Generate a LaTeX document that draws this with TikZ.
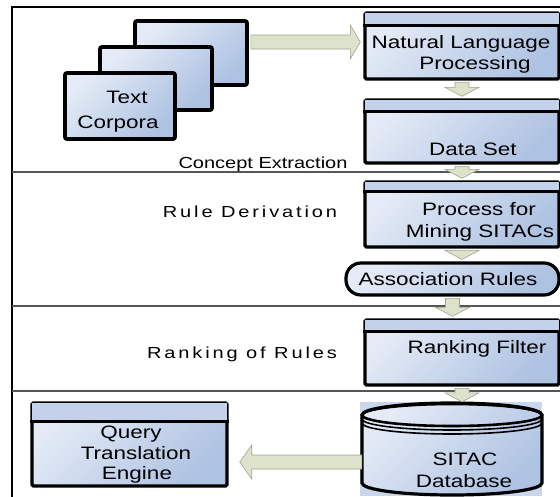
\documentclass[tikz,border=0pt]{standalone}
\usepackage{fontspec}
\setmainfont[FakeStretch=1.25]{Liberation Sans}
\newfontfamily\spacedfont[FakeStretch=1.25,LetterSpace=18]{Liberation Sans}
\usetikzlibrary{calc}
\definecolor{boxlight}{HTML}{E4EBF6}
\definecolor{boxdark}{HTML}{AEC2E2}
\definecolor{headfill}{HTML}{C3D2EA}
\definecolor{arrowfill}{HTML}{DDE3CA}
\definecolor{arrowdraw}{HTML}{9EA58E}
\definecolor{sepgray}{HTML}{555555}
\definecolor{dbbg}{HTML}{C9D7EC}
\tikzset{
  procbox/.style={draw=black, line width=3.4pt, rounded corners=1.5pt,
    top color=boxlight, bottom color=boxdark, shading angle=45,
    inner sep=0pt, minimum width=194pt},
  stackbox/.style={draw=black, line width=3.8pt, rounded corners=2pt,
    top color=boxlight, bottom color=boxdark, shading angle=45,
    inner sep=0pt, minimum width=112pt},
  assocbox/.style={draw=black, line width=3.2pt, rounded corners=15pt,
    top color=boxlight, bottom color=boxdark, shading angle=45,
    inner sep=0pt, minimum width=213pt, minimum height=32pt},
  fatarrow/.style={fill=arrowfill, draw=arrowdraw, line width=0.6pt, line join=miter},
  boxtext/.style={anchor=base, inner sep=0pt, font=\fontsize{18}{21}\selectfont},
  sidetext/.style={anchor=base, inner sep=0pt, font=\fontsize{16}{19}\selectfont},
  spacedtext/.style={anchor=base, inner sep=0pt, font=\spacedfont\fontsize{16}{19}\selectfont},
  frameline/.style={draw=black, line width=1.5pt},
  sepline/.style={draw=sepgray, line width=1.5pt},
}
\newcommand{\headband}[2]{%
  \fill[headfill] ($(#1.north west)+(1.7,1.7)$) rectangle ($(#1.north east)+(-1.7,#2)$);
  \draw[line width=3.2pt] ($(#1.north west)+(0,#2)$) -- ($(#1.north east)+(0,#2)$);}
\newcommand{\fatdown}[2]{%
  \path[fatarrow] let \p1=(#1.south), \p2=(#2.north) in
    (\x1-7pt,\y1-1.7pt) -- (\x1-7pt,\y2+11pt) -- (\x1-17pt,\y2+11pt) -- (\x1,\y2+2pt)
    -- (\x1+17pt,\y2+11pt) -- (\x1+7pt,\y2+11pt) -- (\x1+7pt,\y1-1.7pt) -- cycle;}
\begin{document}
\begin{tikzpicture}[x=1pt,y=-1pt]
\useasboundingbox (0,0) rectangle (560,496);
\clip (0,0) rectangle (560,496);
\fill[white] (0,0) rectangle (560,496);

% frame and separators
\draw[frameline] (12,497) -- (12,7) -- (561,7);
\draw[sepline] (12,172) -- (561,172);
\draw[sepline] (12,306) -- (561,306);
\draw[sepline] (12,391) -- (561,391);

% text corpora stack
\node[stackbox, minimum height=64pt] (back) at (191,53) {};
\node[stackbox, minimum height=63pt] (mid) at (156,78.5) {};
\node[stackbox, minimum width=110pt, minimum height=66pt] (front) at (120,106) {};
\node[boxtext] (t1) at (127,103) {Text};
\node[boxtext] (t2) at (118,128) {Corpora};

% right column boxes
\node[procbox, minimum height=66pt] (nlp) at (462,46) {};
\headband{nlp}{14}
\node[boxtext] (nlpa) at (461,48) {Natural Language};
\node[boxtext] (nlpb) at (475,69) {Processing};

\node[procbox, minimum height=63pt] (ds) at (462,131.5) {};
\headband{ds}{13}
\node[boxtext] (dst) at (473,155) {Data Set};

\node[procbox, minimum height=65pt] (pm) at (462,214.5) {};
\headband{pm}{11}
\node[boxtext] (pma) at (479,215) {Process for};
\node[boxtext] (pmb) at (480,237) {Mining SITACs};

\node[assocbox] (ar) at (452.5,279) {};
\node[boxtext] (art) at (448,285) {Association Rules};

\node[procbox, minimum height=65pt] (rf) at (462,352.5) {};
\headband{rf}{13}
\node[boxtext] (rft) at (477,353) {Ranking Filter};

% database cylinder
\fill[dbbg] (360,402) rectangle (542,496);
\node[inner sep=0pt, minimum width=180pt, minimum height=92pt] (db) at (452,450) {};
\path[draw=black, line width=3.2pt, top color=boxlight, bottom color=boxdark, shading angle=45]
  (362,415) -- (362,483) arc[start angle=180, end angle=360, x radius=90pt, y radius=12pt]
  -- (542,415) arc[start angle=0, end angle=180, x radius=90pt, y radius=12pt] -- cycle;
\draw[line width=2.6pt] (452,415) ellipse[x radius=90pt, y radius=11pt];
\draw[line width=1.6pt] (362,419) arc[start angle=180, end angle=360, x radius=90pt, y radius=11pt];
\draw[line width=1.6pt] (362,423) arc[start angle=180, end angle=360, x radius=90pt, y radius=11pt];
\node[boxtext] (dba) at (465,465) {SITAC};
\node[boxtext] (dbb) at (464,487) {Database};

% query translation engine
\node[procbox, minimum width=195pt, minimum height=83pt] (qt) at (129.5,444.5) {};
\headband{qt}{20}
\node[boxtext] (qta) at (131,438) {Query};
\node[boxtext] (qtb) at (136,459) {Translation};
\node[boxtext] (qtc) at (137,479) {Engine};

% side labels
\node[sidetext] (ce) at (263,168) {Concept Extraction};
\node[spacedtext] (rd) at (250,217) {Rule Derivation};
\node[spacedtext] (rr) at (242,358) {Ranking of Rules};

% block arrows
\path[fatarrow] let \p1=(back.east), \p2=(nlp.west) in
  (\x1+1.9pt,\y2+11pt) -- (\x2-13pt,\y2+11pt) -- (\x2-13pt,\y2+21pt) -- (\x2-3pt,\y2+4pt)
  -- (\x2-13pt,\y2-13pt) -- (\x2-13pt,\y2-3pt) -- (\x1+1.9pt,\y2-3pt) -- cycle;
\fatdown{nlp}{ds}
\fatdown{ds}{pm}
\fatdown{pm}{ar}
\fatdown{ar}{rf}
\fatdown{rf}{db}
\path[fatarrow] let \p1=(db.west), \p2=(qt.east) in
  (\x1,\y1-5pt) -- (\x2+23pt,\y1-5pt) -- (\x2+23pt,\y1+5pt) -- (\x2+11pt,\y1-12pt)
  -- (\x2+23pt,\y1-29pt) -- (\x2+23pt,\y1-19pt) -- (\x1,\y1-19pt) -- cycle;
\end{tikzpicture}
\end{document}
